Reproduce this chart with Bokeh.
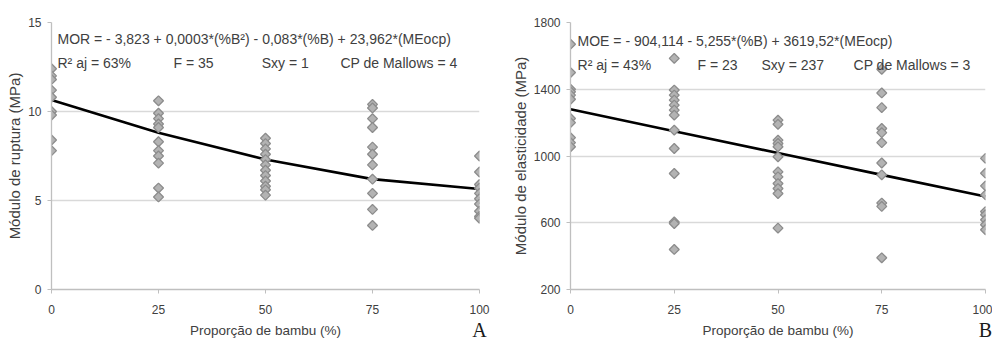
import math
from bokeh.plotting import figure
from bokeh.layouts import row
from bokeh.models import Range1d, FixedTicker, Label, ColumnDataSource, LinearAxis
from bokeh.embed import file_html
from bokeh.resources import INLINE

# ---------------- data ----------------
bamboo_ticks = [0, 25, 50, 75, 100]

# MOR (MPa) observed values per bamboo proportion
mor_b0 = [12.4, 12.0, 11.8, 11.2, 10.8, 10.0, 9.8, 8.4, 7.8]
mor_b25 = [10.6, 9.9, 9.6, 9.3, 9.1, 8.3, 7.8, 7.5, 7.1, 5.7, 5.2]
mor_b50 = [8.5, 8.2, 7.9, 7.6, 7.3, 7.0, 6.7, 6.4, 6.1, 5.8, 5.6, 5.3]
mor_b75 = [10.4, 10.2, 9.6, 9.1, 8.0, 7.6, 7.0, 6.2, 5.4, 4.5, 3.6]
mor_b100 = [7.5, 6.6, 5.9, 5.7, 5.4, 5.1, 4.8, 4.4, 4.1, 4.0]
mor_fit = [10.65, 8.8, 7.3, 6.2, 5.65]

# MOE (MPa) observed values per bamboo proportion
moe_b0 = [1670, 1500, 1400, 1385, 1365, 1340, 1225, 1200, 1110, 1080, 1055]
moe_b25 = [1585, 1395, 1365, 1335, 1305, 1275, 1245, 1155, 1045, 895, 605, 595, 440]
moe_b50 = [1215, 1190, 1095, 1075, 1055, 995, 905, 875, 835, 805, 775, 568]
moe_b75 = [1520, 1378, 1290, 1165, 1140, 1080, 958, 887, 718, 698, 390]
moe_b100 = [986, 897, 821, 767, 667, 648, 618, 588, 558]
moe_fit = [1280, 1148, 1018, 887, 757]

mor_eq = "MOR = - 3,823 + 0,0003*(%B²) - 0,083*(%B) + 23,962*(MEocp)"
mor_stats = ["R² aj = 63%", "F = 35", "Sxy = 1", "CP de Mallows = 4"]
moe_eq = "MOE = - 904,114 - 5,255*(%B) + 3619,52*(MEocp)"
moe_stats = ["R² aj = 43%", "F = 23", "Sxy = 237", "CP de Mallows = 3"]

x_title = "Proporção de bambu (%)"
mor_title = "Módulo de ruptura (MPa)"
moe_title = "Módulo de elasticidade (MPa)"

FONT = "Liberation Sans"
GRID = "#d9d9d9"
AXIS = "#bfbfbf"
TXT = "#404040"


def flatten(groups):
    xs, ys = [], []
    for b, vals in zip(bamboo_ticks, groups):
        xs += [b] * len(vals)
        ys += vals
    return xs, ys


def make_fig(width, left, right, bottom, yr, yticks, ytitle, groups, fit,
             eq, stats, stat_x, line1_y, line2_y, letter):
    p = figure(width=width, height=343, output_backend="svg", toolbar_location=None,
               x_range=Range1d(0, 100), y_range=Range1d(*yr),
               min_border_left=left, min_border_right=right,
               min_border_top=22, min_border_bottom=bottom)
    p.outline_line_color = None
    p.xgrid.visible = False
    p.ygrid.grid_line_color = GRID
    p.ygrid.grid_line_width = 1.3
    p.ygrid.ticker = FixedTicker(ticks=yticks)
    p.xaxis.ticker = FixedTicker(ticks=bamboo_ticks)
    p.yaxis.ticker = FixedTicker(ticks=yticks)
    for ax in (p.xaxis, p.yaxis):
        ax.axis_line_color = AXIS
        ax.axis_line_width = 1.3
        ax.major_tick_line_color = AXIS
        ax.major_tick_in = 0
        ax.major_tick_out = 4
        ax.minor_tick_line_color = None
        ax.major_label_text_font = FONT
        ax.major_label_text_font_size = "12px"
        ax.major_label_text_color = TXT
        ax.axis_label_text_font = FONT
        ax.axis_label_text_font_style = "normal"
        ax.axis_label_text_color = TXT
    p.xaxis.axis_label = x_title
    p.yaxis.axis_label = ytitle
    p.xaxis.axis_label_text_font_size = "13.5px"
    p.yaxis.axis_label_text_font_size = "15px"
    p.xaxis.major_label_standoff = 11
    p.xaxis.axis_label_standoff = 6
    p.yaxis.major_label_standoff = 6
    p.yaxis.axis_label_standoff = 2

    # panel letter, drawn as the only label of a bare second axis below
    letter_axis = LinearAxis(ticker=FixedTicker(ticks=[100]),
                             major_label_overrides={100: letter},
                             axis_line_color=None, major_tick_line_color=None,
                             minor_tick_line_color=None, major_tick_in=0, major_tick_out=0,
                             major_label_standoff=-22,
                             major_label_text_font="Liberation Serif",
                             major_label_text_font_size="20px",
                             major_label_text_color="#1a1a1a")
    p.add_layout(letter_axis, "below")

    xs, ys = flatten(groups)
    src = ColumnDataSource(dict(x=xs, y=ys))
    p.line(bamboo_ticks, fit, line_color="black", line_width=2.6)
    p.scatter("x", "y", source=src, marker="square", size=7, angle=math.pi / 4,
              fill_color="#b3b3b3", line_color="#8c8c8c", line_width=1.3)

    p.add_layout(Label(x=stat_x[0], y=line1_y, text=eq, text_font=FONT,
                       text_font_size="14px", text_color=TXT, text_baseline="middle"))
    for sx, s in zip(stat_x, stats):
        p.add_layout(Label(x=sx, y=line2_y, text=s, text_font=FONT,
                           text_font_size="14px", text_color=TXT, text_baseline="middle"))
    return p


left_fig = make_fig(500, 51, 21, 54, (0, 15), [0, 5, 10, 15], mor_title,
                    [mor_b0, mor_b25, mor_b50, mor_b75, mor_b100], mor_fit,
                    mor_eq, mor_stats, [1.4, 28.5, 49.1, 67.5], 14.1, 12.75, "A")
right_fig = make_fig(492, 70, 7, 53, (200, 1800), [200, 600, 1000, 1400, 1800], moe_title,
                     [moe_b0, moe_b25, moe_b50, moe_b75, moe_b100], moe_fit,
                     moe_eq, moe_stats, [1.7, 30.6, 46.0, 68.2], 1690, 1545, "B")

layout = row(left_fig, right_fig)
open("out.html", "w").write(file_html(layout, INLINE))
